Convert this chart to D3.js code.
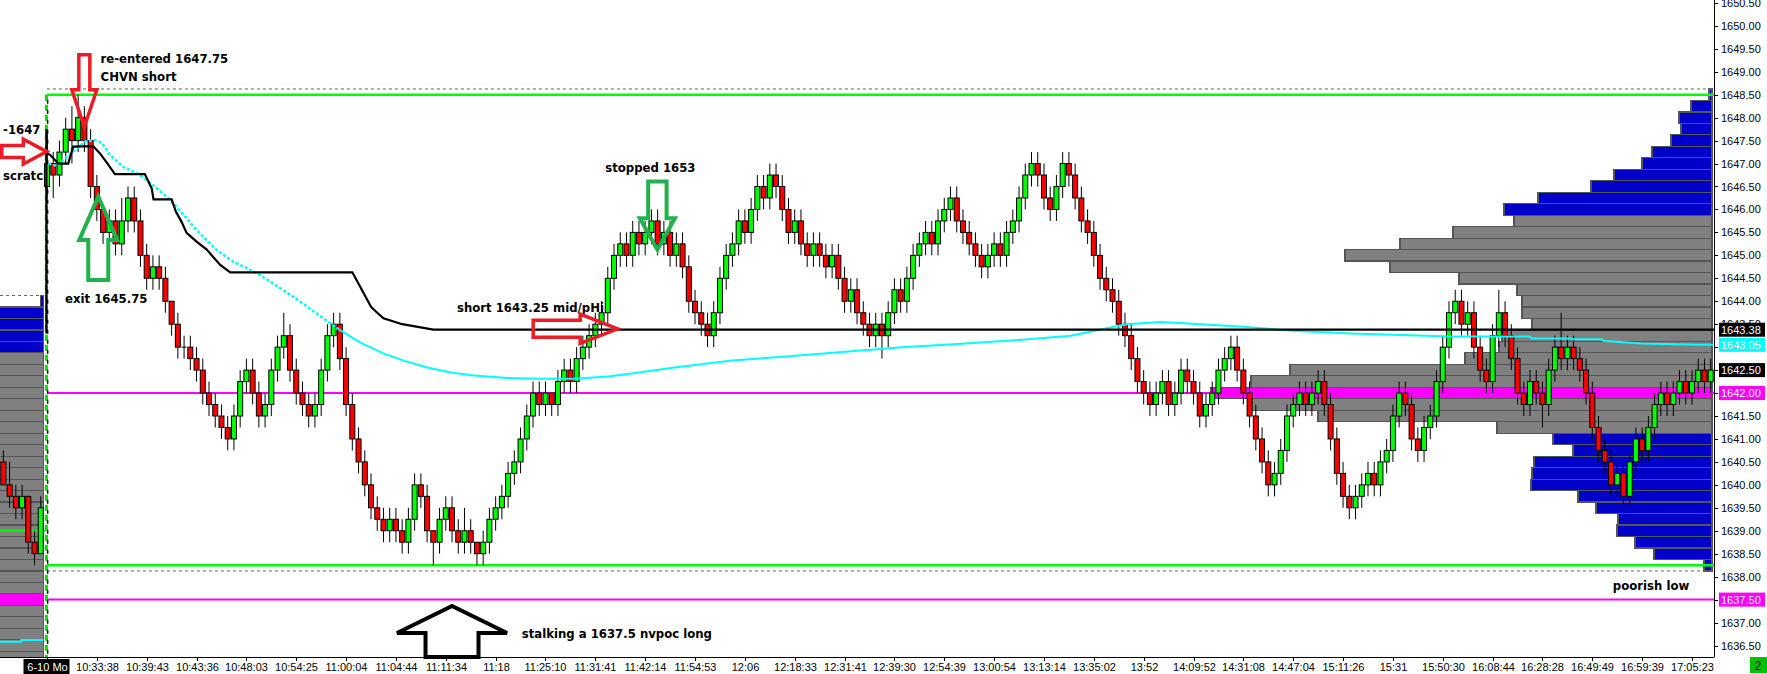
<!DOCTYPE html>
<html><head><meta charset="utf-8">
<script src="https://cdn.jsdelivr.net/npm/d3@7"></script>
<style>
html,body{margin:0;padding:0;background:#fff;}
svg{display:block;}
</style></head><body>
<svg id="c" width="1767" height="674"></svg>
<script>
// ---------------- DATA ----------------
// previous session bars [open, high, low, close] (bar index -7..-1)
const prevBars = [
[1640.5,1640.75,1640.0,1640.0],[1640.0,1640.5,1639.5,1639.75],[1639.75,1640.0,1639.25,1639.5],
[1639.5,1640.0,1639.25,1639.75],[1639.75,1639.75,1638.5,1638.75],[1638.75,1639.0,1638.25,1638.5],
[1638.5,1639.75,1638.5,1639.5]];
// session bars [open, high, low, close] (bar index 0..267)
const sessionBars = [
[1646.5,1647.75,1646.25,1647.0],[1647.0,1647.25,1646.25,1646.75],[1646.75,1647.5,1646.5,1647.25],[1647.25,1648.0,1647.0,1647.75],
[1647.75,1648.25,1647.0,1647.5],[1647.5,1648.5,1647.25,1648.0],[1648.0,1648.25,1647.25,1647.5],[1647.5,1647.75,1646.25,1646.5],
[1646.5,1646.75,1645.75,1646.0],[1646.0,1646.0,1645.25,1645.5],[1645.5,1646.0,1645.0,1645.75],[1645.75,1646.0,1645.0,1645.25],
[1645.25,1646.25,1645.0,1645.75],[1645.75,1646.5,1645.5,1646.25],[1646.25,1646.5,1645.5,1645.75],[1645.75,1646.0,1644.75,1645.0],
[1645.0,1645.25,1644.25,1644.5],[1644.5,1645.0,1644.25,1644.75],[1644.75,1645.0,1644.25,1644.5],[1644.5,1644.75,1643.75,1644.0],
[1644.0,1644.0,1643.25,1643.5],[1643.5,1643.75,1642.75,1643.0],[1643.0,1643.25,1642.75,1643.0],[1643.0,1643.25,1642.5,1642.75],
[1642.75,1643.0,1642.25,1642.5],[1642.5,1642.75,1641.75,1642.0],[1642.0,1642.25,1641.5,1641.75],[1641.75,1642.0,1641.25,1641.5],
[1641.5,1641.75,1641.0,1641.25],[1641.25,1641.5,1640.75,1641.0],[1641.0,1641.75,1640.75,1641.5],[1641.5,1642.5,1641.25,1642.25],
[1642.25,1642.75,1642.0,1642.5],[1642.5,1642.75,1641.75,1642.0],[1642.0,1642.25,1641.25,1641.5],[1641.5,1642.0,1641.25,1641.75],
[1641.75,1642.75,1641.5,1642.5],[1642.5,1643.25,1642.25,1643.0],[1643.0,1643.75,1642.75,1643.25],[1643.25,1643.5,1642.25,1642.5],
[1642.5,1642.75,1641.75,1642.0],[1642.0,1642.25,1641.5,1641.75],[1641.75,1642.0,1641.25,1641.5],[1641.5,1642.0,1641.25,1641.75],
[1641.75,1642.75,1641.5,1642.5],[1642.5,1643.5,1642.25,1643.25],[1643.25,1643.75,1643.0,1643.5],[1643.5,1643.75,1642.5,1642.75],
[1642.75,1643.0,1641.5,1641.75],[1641.75,1642.0,1640.75,1641.0],[1641.0,1641.25,1640.25,1640.5],[1640.5,1640.75,1639.75,1640.0],
[1640.0,1640.25,1639.25,1639.5],[1639.5,1639.75,1639.0,1639.25],[1639.25,1639.5,1638.75,1639.0],[1639.0,1639.5,1638.75,1639.25],
[1639.25,1639.5,1638.75,1639.0],[1639.0,1639.25,1638.5,1638.75],[1638.75,1639.5,1638.5,1639.25],[1639.25,1640.25,1639.0,1640.0],
[1640.0,1640.25,1639.5,1639.75],[1639.75,1640.0,1638.75,1639.0],[1639.0,1639.0,1638.25,1638.75],[1638.75,1639.5,1638.5,1639.25],
[1639.25,1639.75,1639.0,1639.5],[1639.5,1639.75,1638.75,1639.0],[1639.0,1639.25,1638.5,1638.75],[1638.75,1639.5,1638.5,1639.0],
[1639.0,1639.25,1638.5,1638.75],[1638.75,1638.75,1638.25,1638.5],[1638.5,1639.0,1638.25,1638.75],[1638.75,1639.5,1638.5,1639.25],
[1639.25,1639.75,1639.0,1639.5],[1639.5,1640.0,1639.25,1639.75],[1639.75,1640.5,1639.5,1640.25],[1640.25,1640.75,1640.0,1640.5],
[1640.5,1641.25,1640.25,1641.0],[1641.0,1641.75,1640.75,1641.5],[1641.5,1642.25,1641.25,1642.0],[1642.0,1642.25,1641.5,1641.75],
[1641.75,1642.25,1641.5,1642.0],[1642.0,1642.0,1641.5,1641.75],[1641.75,1642.5,1641.5,1642.25],[1642.25,1642.75,1642.0,1642.5],
[1642.5,1642.75,1642.0,1642.25],[1642.25,1643.0,1642.0,1642.75],[1642.75,1643.25,1642.5,1643.0],[1643.0,1643.5,1642.75,1643.25],
[1643.25,1643.75,1643.0,1643.5],[1643.5,1644.0,1643.25,1643.75],[1643.75,1644.75,1643.5,1644.5],[1644.5,1645.25,1644.25,1645.0],
[1645.0,1645.5,1644.75,1645.25],[1645.25,1645.5,1644.75,1645.0],[1645.0,1645.75,1644.75,1645.5],[1645.5,1645.75,1645.0,1645.25],
[1645.25,1645.75,1645.0,1645.5],[1645.5,1646.0,1645.25,1645.75],[1645.75,1646.0,1645.0,1645.25],[1645.25,1645.75,1645.0,1645.5],
[1645.5,1645.75,1644.75,1645.0],[1645.0,1645.5,1644.75,1645.25],[1645.25,1645.5,1644.5,1644.75],[1644.75,1645.0,1643.75,1644.0],
[1644.0,1644.25,1643.5,1643.75],[1643.75,1644.0,1643.25,1643.5],[1643.5,1643.75,1643.0,1643.25],[1643.25,1644.0,1643.0,1643.75],
[1643.75,1644.75,1643.5,1644.5],[1644.5,1645.25,1644.25,1645.0],[1645.0,1645.5,1644.75,1645.25],[1645.25,1646.0,1645.0,1645.75],
[1645.75,1646.0,1645.25,1645.5],[1645.5,1646.25,1645.25,1646.0],[1646.0,1646.75,1645.75,1646.5],[1646.5,1646.75,1646.0,1646.25],
[1646.25,1647.0,1646.0,1646.75],[1646.75,1647.0,1646.25,1646.5],[1646.5,1646.75,1645.75,1646.0],[1646.0,1646.25,1645.25,1645.5],
[1645.5,1646.0,1645.25,1645.75],[1645.75,1646.0,1645.0,1645.25],[1645.25,1645.5,1644.75,1645.0],[1645.0,1645.5,1644.75,1645.25],
[1645.25,1645.5,1644.75,1645.0],[1645.0,1645.25,1644.5,1644.75],[1644.75,1645.25,1644.5,1645.0],[1645.0,1645.25,1644.25,1644.5],
[1644.5,1644.75,1643.75,1644.0],[1644.0,1644.5,1643.75,1644.25],[1644.25,1644.5,1643.5,1643.75],[1643.75,1644.0,1643.25,1643.5],
[1643.5,1643.75,1643.0,1643.25],[1643.25,1643.75,1643.0,1643.5],[1643.5,1643.75,1642.75,1643.25],[1643.25,1644.0,1643.0,1643.75],
[1643.75,1644.5,1643.5,1644.25],[1644.25,1644.5,1643.75,1644.0],[1644.0,1644.75,1643.75,1644.5],[1644.5,1645.25,1644.25,1645.0],
[1645.0,1645.5,1644.75,1645.25],[1645.25,1645.75,1645.0,1645.5],[1645.5,1645.75,1645.0,1645.25],[1645.25,1646.0,1645.0,1645.75],
[1645.75,1646.25,1645.5,1646.0],[1646.0,1646.5,1645.75,1646.25],[1646.25,1646.5,1645.5,1645.75],[1645.75,1646.0,1645.25,1645.5],
[1645.5,1645.75,1645.0,1645.25],[1645.25,1645.5,1644.75,1645.0],[1645.0,1645.25,1644.5,1644.75],[1644.75,1645.25,1644.5,1645.0],
[1645.0,1645.5,1644.75,1645.25],[1645.25,1645.5,1644.75,1645.0],[1645.0,1645.75,1644.75,1645.5],[1645.5,1646.0,1645.25,1645.75],
[1645.75,1646.5,1645.5,1646.25],[1646.25,1647.0,1646.0,1646.75],[1646.75,1647.25,1646.5,1647.0],[1647.0,1647.25,1646.5,1646.75],
[1646.75,1647.0,1646.0,1646.25],[1646.25,1646.5,1645.75,1646.0],[1646.0,1646.75,1645.75,1646.5],[1646.5,1647.25,1646.25,1647.0],
[1647.0,1647.25,1646.5,1646.75],[1646.75,1647.0,1646.0,1646.25],[1646.25,1646.5,1645.5,1645.75],[1645.75,1646.0,1645.25,1645.5],
[1645.5,1645.75,1644.75,1645.0],[1645.0,1645.25,1644.25,1644.5],[1644.5,1644.75,1644.0,1644.25],[1644.25,1644.5,1643.75,1644.0],
[1644.0,1644.25,1643.25,1643.5],[1643.5,1643.75,1643.0,1643.25],[1643.25,1643.5,1642.5,1642.75],[1642.75,1643.0,1642.0,1642.25],
[1642.25,1642.5,1641.75,1642.0],[1642.0,1642.25,1641.5,1641.75],[1641.75,1642.25,1641.5,1642.0],[1642.0,1642.5,1641.75,1642.25],
[1642.25,1642.5,1641.5,1641.75],[1641.75,1642.25,1641.5,1642.0],[1642.0,1642.75,1641.75,1642.5],[1642.5,1642.75,1642.0,1642.25],
[1642.25,1642.5,1641.75,1642.0],[1642.0,1642.25,1641.25,1641.5],[1641.5,1642.0,1641.25,1641.75],[1641.75,1642.25,1641.5,1642.0],
[1642.0,1642.75,1641.75,1642.5],[1642.5,1643.0,1642.25,1642.75],[1642.75,1643.25,1642.5,1643.0],[1643.0,1643.25,1642.25,1642.5],
[1642.5,1642.75,1641.75,1642.0],[1642.0,1642.25,1641.25,1641.5],[1641.5,1641.75,1640.75,1641.0],[1641.0,1641.25,1640.25,1640.5],
[1640.5,1640.75,1639.75,1640.0],[1640.0,1640.5,1639.75,1640.25],[1640.25,1641.0,1640.0,1640.75],[1640.75,1641.75,1640.5,1641.5],
[1641.5,1642.0,1641.25,1641.75],[1641.75,1642.25,1641.5,1642.0],[1642.0,1642.25,1641.5,1641.75],[1641.75,1642.25,1641.5,1642.0],
[1642.0,1642.5,1641.75,1642.25],[1642.25,1642.5,1641.5,1641.75],[1641.75,1642.0,1640.75,1641.0],[1641.0,1641.25,1640.0,1640.25],
[1640.25,1640.5,1639.5,1639.75],[1639.75,1640.0,1639.25,1639.5],[1639.5,1640.0,1639.25,1639.75],[1639.75,1640.25,1639.5,1640.0],
[1640.0,1640.5,1639.75,1640.25],[1640.25,1640.5,1639.75,1640.0],[1640.0,1640.75,1639.75,1640.5],[1640.5,1641.0,1640.25,1640.75],
[1640.75,1641.75,1640.5,1641.5],[1641.5,1642.25,1641.25,1642.0],[1642.0,1642.25,1641.5,1641.75],[1641.75,1642.0,1640.75,1641.0],
[1641.0,1641.25,1640.5,1640.75],[1640.75,1641.5,1640.5,1641.25],[1641.25,1641.75,1641.0,1641.5],[1641.5,1642.5,1641.25,1642.25],
[1642.25,1643.25,1642.0,1643.0],[1643.0,1644.0,1642.75,1643.75],[1643.75,1644.25,1643.5,1644.0],[1644.0,1644.25,1643.25,1643.5],
[1643.5,1644.0,1643.25,1643.75],[1643.75,1644.0,1642.75,1643.0],[1643.0,1643.25,1642.25,1642.5],[1642.5,1642.75,1642.0,1642.25],
[1642.25,1643.5,1642.0,1643.25],[1643.25,1644.25,1643.0,1643.75],[1643.75,1644.0,1643.0,1643.25],[1643.25,1643.5,1642.5,1642.75],
[1642.75,1643.0,1641.75,1642.0],[1642.0,1642.25,1641.5,1641.75],[1641.75,1642.5,1641.5,1642.25],[1642.25,1642.5,1641.75,1642.0],
[1642.0,1642.25,1641.25,1641.75],[1641.75,1642.75,1641.5,1642.5],[1642.5,1643.25,1642.25,1643.0],[1643.0,1643.75,1642.5,1642.75],
[1642.75,1643.25,1642.5,1643.0],[1643.0,1643.25,1642.5,1642.75],[1642.75,1643.0,1642.25,1642.5],[1642.5,1642.75,1641.75,1642.0],
[1642.0,1642.25,1641.0,1641.25],[1641.25,1641.5,1640.5,1640.75],[1640.75,1641.0,1640.25,1640.5],[1640.5,1640.75,1639.75,1640.0],
[1640.0,1640.5,1639.75,1640.25],[1640.25,1640.5,1639.5,1639.75],[1639.75,1640.75,1639.5,1640.5],[1640.5,1641.25,1640.25,1641.0],
[1641.0,1641.25,1640.5,1640.75],[1640.75,1641.5,1640.5,1641.25],[1641.25,1642.0,1641.0,1641.75],[1641.75,1642.25,1641.5,1642.0],
[1642.0,1642.25,1641.5,1641.75],[1641.75,1642.25,1641.5,1642.0],[1642.0,1642.5,1641.75,1642.25],[1642.25,1642.5,1641.75,1642.0],
[1642.0,1642.5,1641.75,1642.25],[1642.25,1642.75,1642.0,1642.5],[1642.5,1642.75,1642.0,1642.25],[1642.25,1642.75,1642.0,1642.5]];

const timeLabels = ["6-10 Mo","10:33:38","10:39:43","10:43:36","10:48:03","10:54:25","11:00:04","11:04:44","11:11:34","11:18","11:25:10","11:31:41","11:42:14","11:54:53","12:06","12:18:33","12:31:41","12:39:30","12:54:39","13:00:54","13:13:14","13:35:02","13:52","14:09:52","14:31:08","14:47:04","15:11:26","15:31","15:50:30","16:08:44","16:28:28","16:49:49","16:59:39","17:05:23"];
const barsPerLabel = 8;
const priceTicks = d3.range(1636.5, 1650.51, 0.5);

// VWAP (cyan) [bar index, price]
const vwapPoints = [[0.2,1647.0],[1.5,1646.95],[3.2,1647.15],[4.8,1647.33],[6.1,1647.48],[7.7,1647.51],[8.8,1647.45],[10.1,1647.19],[12.2,1646.93],[14.4,1646.79],[16,1646.64],[17.6,1646.46],[19.2,1646.28],[20.5,1646.1],[22.4,1645.81],[24,1645.55],[25.6,1645.33],[27.2,1645.12],[29.9,1644.86],[32.1,1644.72],[34.2,1644.57],[36.7,1644.35],[39.5,1644.1],[43.1,1643.75],[46.7,1643.4],[50.3,1643.1],[53.9,1642.87],[57.6,1642.69],[61.2,1642.55],[64.8,1642.45],[68.5,1642.38],[73.9,1642.33],[79.3,1642.31],[84.7,1642.31],[90.1,1642.36],[95.6,1642.46],[101,1642.56],[110,1642.71],[119.1,1642.8],[128.1,1642.9],[137.2,1643.0],[146.2,1643.07],[155.3,1643.15],[164.3,1643.25],[169.7,1643.4],[173.3,1643.5],[178.8,1643.55],[182.4,1643.52],[191.4,1643.45],[200.5,1643.35],[209.5,1643.3],[225.2,1643.23],[238,1643.23],[238.3,1643.19],[244.6,1643.19],[244.9,1643.17],[249.5,1643.17],[249.8,1643.14],[253.5,1643.1],[255.9,1643.08],[259.4,1643.07],[265.3,1643.05],[267.4,1643.05]];
const prevVwapPoints = [[-7.6,1636.58],[-4.2,1636.58],[-4.1,1636.62],[-0.6,1636.62]];
// black line: developing session midpoint [bar index, price]
const blackLinePoints = [[-0.1,1643.3],[-0.1,1647.75],[0,1647.22],[0.5,1647.19],[1.8,1647.0],[3.4,1647.0],[4.2,1647.37],[7.4,1647.38],[8.5,1647.22],[9.6,1647.02],[10.9,1646.77],[15.7,1646.77],[16.8,1646.46],[17.1,1646.22],[20,1646.22],[20.7,1645.95],[21.6,1645.73],[22.4,1645.49],[24,1645.3],[25.6,1645.13],[27.8,1644.79],[29.4,1644.63],[49,1644.63],[50,1644.38],[51,1644.13],[52,1643.88],[53,1643.75],[54,1643.63],[57,1643.5],[62,1643.38],[267.6,1643.38]];

// session volume profile
const profilePrices = d3.range(1648.5, 1638.24, -0.25);
const profileVolumes = [6,42,66,62,82,120,140,196,242,348,416,396,518,624,734,644,506,390,380,380,360,420,426,494,844,922,1002,922,788,430,318,278,356,360,362,268,232,188,190,154,116,16];
const profileVAH = 1645.75, profileVAL = 1641.25, profilePOC = 1642.0;
// previous session profile
const prevProfilePrices = d3.range(1644.0, 1636.24, -0.25);
const prevProfileVolumes = [5,260,300,320,300,380,420,400,460,480,520,500,560,540,600,640,620,580,600,660,700,720,760,800,780,820,760,700,680,640,600,560];
const prevVAH = 1642.75, prevVAL = 1636.25, prevPOC = 1637.5;

const sessionHigh = 1648.5, sessionLow = 1638.25, nvpoc = 1637.5, prevHigh = 1644.0, prevMark = 1639.0;
const blackLast = 1643.38, vwapLast = 1643.05, lastPrice = 1642.5;

// ---------------- SCALES ----------------
const W = 1767, H = 674, axisX = 1714, axisY = 657;
const xS = d3.scaleLinear().domain([0, 264]).range([47, 1692]);
const yS = d3.scaleLinear().domain([1648.5, 1637.5]).range([94.7, 599.6]);
const volW = d3.scaleLinear().domain([0, 1000]).range([0, 500]);
const profileRight = xS(267.2), prevProfileRight = xS(-0.6);
const rowH = yS(0) - yS(0.25);

const svg = d3.select("#c");
svg.append("rect").attr("width", W).attr("height", H).attr("fill", "#fff");
svg.append("defs").append("clipPath").attr("id","pc").append("rect").attr("x",0).attr("y",0).attr("width",axisX).attr("height",axisY);
const plot = svg.append("g").attr("clip-path","url(#pc)");

// profiles
function drawProfile(prices, vols, right, vah, val, poc) {
  plot.append("g").selectAll("rect").data(prices).join("rect")
    .attr("x", (p,i) => right - volW(vols[i]))
    .attr("width", (p,i) => volW(vols[i]))
    .attr("y", p => yS(p + 0.125))
    .attr("height", rowH)
    .attr("fill", p => p === poc ? "#ff00ff" : (p > vah || p < val ? "#0000c8" : "#808080"))
    .attr("stroke", "#555").attr("stroke-width", 1.2).attr("shape-rendering","crispEdges");
}
drawProfile(prevProfilePrices, prevProfileVolumes, prevProfileRight, prevVAH, prevVAL, prevPOC);
drawProfile(profilePrices, profileVolumes, profileRight, profileVAH, profileVAL, profilePOC);

// horizontal level lines
function hline(p, x1, x2, color, w, dash) {
  const l = plot.append("line").attr("x1", x1).attr("x2", x2).attr("y1", yS(p)).attr("y2", yS(p))
    .attr("stroke", color).attr("stroke-width", w);
  if (dash) l.attr("stroke-dasharray", dash);
}
hline(prevHigh + 0.125, 0, prevProfileRight, "#666", 1, "3,3");
hline(prevMark, 0, xS(-0.2), "#00ff00", 2);
hline(sessionHigh + 0.125, xS(0), profileRight, "#666", 1, "3,3");
hline(sessionHigh, xS(0), axisX, "#00ff00", 2.5);
hline(sessionLow - 0.125, xS(0), profileRight, "#666", 1, "3,3");
hline(sessionLow, xS(0), axisX, "#00ff00", 2.5);
hline(profilePOC, xS(0), axisX, "#ff00ff", 2);
hline(nvpoc, xS(0), axisX, "#ff00ff", 2);

// session separator
plot.append("line").attr("x1", xS(-0.1)).attr("x2", xS(-0.1)).attr("y1", yS(sessionHigh)).attr("y2", axisY)
  .attr("stroke", "#00e000").attr("stroke-width", 3).attr("stroke-dasharray", "6,4");
plot.append("line").attr("x1", xS(0.1)).attr("x2", xS(0.1)).attr("y1", yS(sessionHigh)).attr("y2", axisY)
  .attr("stroke", "#000").attr("stroke-width", 1.5).attr("stroke-dasharray", "4,6").attr("stroke-dashoffset", 5);

// candles
function drawBars(bars, startIdx) {
  const g = plot.append("g");
  bars.forEach((b, k) => {
    const i = startIdx + k, x = xS(i);
    const [o, h, l, c] = b;
    g.append("line").attr("x1", x).attr("x2", x).attr("y1", yS(h)).attr("y2", yS(l))
      .attr("stroke", "#000").attr("stroke-width", 1);
    if (o === c) {
      g.append("line").attr("x1", x - 2.5).attr("x2", x + 2.5).attr("y1", yS(c)).attr("y2", yS(c)).attr("stroke", "#000");
    } else {
      g.append("rect").attr("x", x - 2.5).attr("width", 5)
        .attr("y", yS(Math.max(o, c))).attr("height", Math.abs(yS(o) - yS(c)))
        .attr("fill", c > o ? "#00ff00" : "#ff0000").attr("stroke", "#000").attr("stroke-width", 1);
    }
  });
}
drawBars(prevBars, -prevBars.length);
drawBars(sessionBars, 0);

// lines
const lineGen = d3.line().x(d => xS(d[0])).y(d => yS(d[1]));
plot.append("path").attr("d", lineGen(vwapPoints.filter(d => d[0] <= 46.7))).attr("fill", "none")
  .attr("stroke", "#00ffff").attr("stroke-width", 2.5).attr("stroke-dasharray", "3,2");
plot.append("path").attr("d", lineGen(vwapPoints.filter(d => d[0] >= 46.7))).attr("fill", "none")
  .attr("stroke", "#00ffff").attr("stroke-width", 2);
plot.append("path").attr("d", lineGen(prevVwapPoints)).attr("fill", "none").attr("stroke", "#00ffff").attr("stroke-width", 2);
plot.append("path").attr("d", lineGen(blackLinePoints)).attr("fill", "none").attr("stroke", "#000").attr("stroke-width", 2.2);

// ---------------- ANNOTATIONS ----------------
const font = "'DejaVu Sans', Verdana, sans-serif";
const notes = [
  {t:"re-entered 1647.75", i:8.6, p:1649.19},
  {t:"CHVN short", i:8.6, p:1648.8},
  {t:"-1647", i:-7.05, p:1647.64},
  {t:"exit 1645.75", i:2.9, p:1643.96},
  {t:"stopped 1653", i:89.6, p:1646.82},
  {t:"short 1643.25 mid/pHi", i:65.8, p:1643.77},
  {t:"stalking a 1637.5 nvpoc long", i:76.2, p:1636.66},
  {t:"poorish low", i:251.3, p:1637.71}
];
svg.append("defs").append("clipPath").attr("id","sc").append("rect").attr("x",0).attr("y",0).attr("width",45).attr("height",674);
notes.forEach(n => {
  svg.append("text").attr("x", xS(n.i)).attr("y", yS(n.p)).text(n.t)
    .attr("font-family", font).attr("font-weight", "bold").attr("font-size", 11.7).attr("fill", "#000");
});
svg.append("text").attr("x", xS(-7.05)).attr("y", yS(1646.64)).text("scratch").attr("clip-path","url(#sc)")
  .attr("font-family", font).attr("font-weight", "bold").attr("font-size", 11.7).attr("fill", "#000");

// arrows: tip in data coords, dir, dims in px
function arrow(ti, tp, dir, headHalf, headLen, shaftHalf, shaftLen, color, sw) {
  const tx = xS(ti), ty = yS(tp);
  let pts;
  if (dir === "down") pts = [[tx,ty],[tx-headHalf,ty-headLen],[tx-shaftHalf,ty-headLen],[tx-shaftHalf,ty-headLen-shaftLen],[tx+shaftHalf,ty-headLen-shaftLen],[tx+shaftHalf,ty-headLen],[tx+headHalf,ty-headLen]];
  if (dir === "up") pts = [[tx,ty],[tx-headHalf,ty+headLen],[tx-shaftHalf,ty+headLen],[tx-shaftHalf,ty+headLen+shaftLen],[tx+shaftHalf,ty+headLen+shaftLen],[tx+shaftHalf,ty+headLen],[tx+headHalf,ty+headLen]];
  if (dir === "right") pts = [[tx,ty],[tx-headLen,ty-headHalf],[tx-headLen,ty-shaftHalf],[tx-headLen-shaftLen,ty-shaftHalf],[tx-headLen-shaftLen,ty+shaftHalf],[tx-headLen,ty+shaftHalf],[tx-headLen,ty+headHalf]];
  svg.append("polygon").attr("points", pts.map(p => p.join(",")).join(" "))
    .attr("fill", "none").attr("stroke", color).attr("stroke-width", sw).attr("stroke-linejoin", "miter");
}
arrow(5.99, 1647.8, "down", 12.5, 37, 5.5, 35, "#ed1c24", 3.5);
arrow(-0.05, 1647.26, "right", 12.5, 23.4, 6, 21.6, "#ed1c24", 3.5);
arrow(8.23, 1646.28, "up", 19, 43.3, 10, 40, "#22b14c", 4);
arrow(97.96, 1645.12, "down", 17.5, 31.7, 9.2, 36.6, "#22b14c", 4);
arrow(91.6, 1643.4, "right", 14.7, 37.6, 8.5, 47, "#ed1c24", 3.5);
arrow(65.0, 1637.36, "up", 55, 27, 26.5, 24, "#000", 4);

// ---------------- AXES ----------------
const axFont = "'Liberation Sans', Arial, sans-serif";
const boxPrices = [blackLast, vwapLast, lastPrice, profilePOC, nvpoc];
svg.append("line").attr("x1", axisX + 0.5).attr("x2", axisX + 0.5).attr("y1", 0).attr("y2", axisY).attr("stroke", "#000");
svg.append("line").attr("x1", 0).attr("x2", axisX + 0.5).attr("y1", axisY + 0.5).attr("y2", axisY + 0.5).attr("stroke", "#000");
priceTicks.forEach(p => {
  const y = Math.round(yS(p)) + 0.5;
  svg.append("line").attr("x1", axisX).attr("x2", axisX + 4).attr("y1", y).attr("y2", y).attr("stroke", "#000");
  // labels fully covered by a highlighted price box are not drawn
  if (boxPrices.some(b => Math.abs(yS(b) - yS(p)) < 4)) return;
  svg.append("text").attr("x", axisX + 7).attr("y", yS(p) + 4).text(p.toFixed(2))
    .attr("font-family", axFont).attr("font-size", 11).attr("fill", "#000");
});
function priceBox(p, bg, fg) {
  const y = yS(p);
  svg.append("rect").attr("x", axisX + 5).attr("y", y - 7).attr("width", 46).attr("height", 14).attr("fill", bg);
  svg.append("text").attr("x", axisX + 7).attr("y", y + 4).text(p.toFixed(2))
    .attr("font-family", axFont).attr("font-size", 11).attr("fill", fg);
}
priceBox(blackLast, "#000", "#fff");
priceBox(vwapLast, "#00ffff", "#fff");
priceBox(lastPrice, "#000", "#fff");
priceBox(profilePOC, "#ff00ff", "#fff");
priceBox(nvpoc, "#ff00ff", "#fff");

timeLabels.forEach((t, k) => {
  const x = Math.round(xS(k * barsPerLabel)) + 0.5;
  svg.append("line").attr("x1", x).attr("x2", x).attr("y1", axisY).attr("y2", axisY + 4).attr("stroke", "#000");
  if (k === 0) {
    svg.append("rect").attr("x", x - 24).attr("y", axisY + 2).attr("width", 46).attr("height", 15).attr("fill", "#000");
  }
  svg.append("text").attr("x", x).attr("y", axisY + 14).attr("text-anchor", "middle").text(t)
    .attr("font-family", axFont).attr("font-size", 11).attr("fill", k === 0 ? "#fff" : "#000");
});
svg.append("rect").attr("x", 1750).attr("y", axisY).attr("width", 17).attr("height", 16).attr("fill", "#00c000");
svg.append("text").attr("x", 1758).attr("y", axisY + 13).attr("text-anchor", "middle").text("2")
  .attr("font-family", axFont).attr("font-size", 12).attr("fill", "#000");
</script>
</body></html>
